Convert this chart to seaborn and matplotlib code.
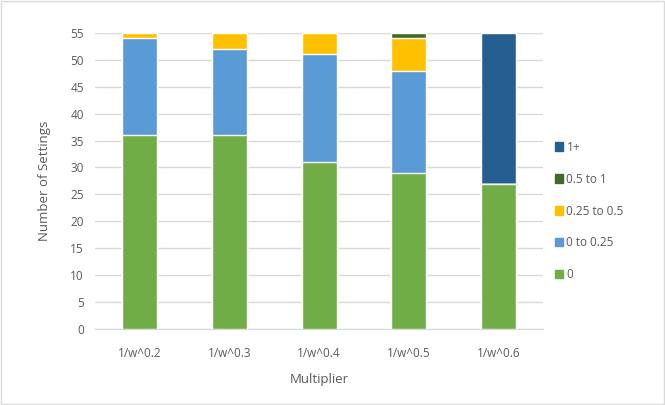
import numpy as np
import pandas as pd
import seaborn as sns
import matplotlib.pyplot as plt
from matplotlib.patches import Rectangle, Patch

multipliers = ['1/w^0.2', '1/w^0.3', '1/w^0.4', '1/w^0.5', '1/w^0.6']
series = ['0', '0 to 0.25', '0.25 to 0.5', '0.5 to 1', '1+']
v_zero = [36, 36, 31, 29, 27]
v_0_025 = [18, 16, 20, 19, 0]
v_025_05 = [1, 3, 4, 6, 0]
v_05_1 = [0, 0, 0, 1, 0]
v_1plus = [0, 0, 0, 0, 28]
colors = ['#70AD47', '#5B9BD5', '#FFC000', '#43682B', '#255E91']

sns.set_style('white')
plt.rcParams['font.family'] = ['Open Sans', 'DejaVu Sans']
txt = '#595959'

fig = plt.figure(figsize=(6.65, 4.05), dpi=100)
ax = fig.add_axes([0.143, 0.1877, 0.674, 0.731])

layers = np.array([v_zero, v_0_025, v_025_05, v_05_1, v_1plus])
cum = layers.cumsum(axis=0)
# draw the running totals from the top down so each layer shows on top
for i in range(len(series) - 1, -1, -1):
    df = pd.DataFrame({'Multiplier': multipliers, 'Total': cum[i]})
    sns.barplot(data=df, x='Multiplier', y='Total', color=colors[i],
                width=0.39, saturation=1, ax=ax, zorder=3)

ax.set_ylim(0, 55)
ax.set_yticks(range(0, 56, 5))
ax.grid(axis='y', color='#D9D9D9', linewidth=1, zorder=0)
ax.set_axisbelow(True)
for s in ['top', 'right', 'left']:
    ax.spines[s].set_visible(False)
ax.spines['bottom'].set_color('#D9D9D9')
ax.tick_params(axis='both', length=0, labelsize=8.5, colors=txt)
ax.tick_params(axis='y', pad=8)
ax.tick_params(axis='x', pad=13)
ax.set_xlabel('Multiplier', fontsize=9.5, color=txt, labelpad=9)
ax.set_ylabel('Number of Settings', fontsize=9.5, color=txt, labelpad=14)

handles = [Patch(color=colors[i], label=series[i]) for i in range(len(series) - 1, -1, -1)]
leg = fig.legend(handles=handles, loc='center left', bbox_to_anchor=(0.818, 0.479),
                 frameon=False, fontsize=8.5, handlelength=0.7, handleheight=0.7,
                 handletextpad=0.3, labelspacing=1.6)
for t in leg.get_texts():
    t.set_color(txt)

fig.patches.append(Rectangle((0.002, 0.003), 0.996, 0.994, transform=fig.transFigure,
                             fill=False, edgecolor='#D9D9D9', linewidth=1))

fig.savefig('out.png', dpi=100)
